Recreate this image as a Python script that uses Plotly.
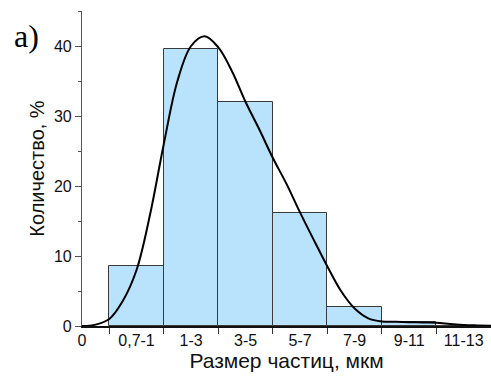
import plotly.graph_objects as go

# Data
categories = ["0,7-1", "1-3", "3-5", "5-7", "7-9", "9-11", "11-13"]
counts = [8.6, 39.6, 32.0, 16.2, 2.7, 0.6, 0.0]

curve_x = [0.0, 0.5, 1.0, 1.5, 2.0, 2.5, 3.0, 3.5, 4.0, 4.5, 5.0, 5.5, 6.0, 6.5, 7.0,
           7.5, 8.0, 8.5, 9.0, 9.5, 10.0, 10.5, 11.0, 11.5, 12.0, 12.5, 13.0, 13.5,
           14.0, 14.5, 15.0]
curve_y = [0.0, 0.2, 1.0, 3.6, 8.0, 16.0, 26.0, 35.0, 40.0, 41.4, 39.8, 36.4, 32.0,
           28.1, 24.0, 20.3, 16.2, 12.3, 8.5, 5.0, 2.5, 1.1, 0.65, 0.6, 0.55, 0.5,
           0.47, 0.3, 0.15, 0.08, 0.03]

bin_width = 2
bar_centers = [2 + bin_width * i for i in range(len(categories))]
label_vals = [0] + bar_centers
label_text = ["0"] + categories
tick_vals = [c - bin_width / 2 for c in bar_centers]

FONT = "Liberation Sans, Arial, sans-serif"

fig = go.Figure()
fig.add_trace(go.Bar(
    x=bar_centers, y=counts, width=bin_width,
    marker=dict(color="#b9e3fd", line=dict(color="#3a3a3a", width=1)),
    showlegend=False,
))
fig.add_trace(go.Scatter(
    x=curve_x, y=curve_y, mode="lines",
    line=dict(color="black", width=2, shape="spline", smoothing=1.0),
    showlegend=False,
))
# invisible trace to activate the overlay axis that carries the category labels
fig.add_trace(go.Scatter(x=[0], y=[0], xaxis="x2", mode="markers",
                         marker=dict(opacity=0), showlegend=False, hoverinfo="skip"))

fig.update_layout(
    width=491, height=380,
    margin=dict(l=82, r=0, t=11, b=54),
    plot_bgcolor="white", paper_bgcolor="white",
    bargap=0,
    font=dict(family=FONT, size=16, color="#111"),
    xaxis=dict(
        range=[0, 15], showgrid=False, zeroline=False,
        showline=True, linecolor="#111", linewidth=1.5,
        tickmode="array", tickvals=tick_vals, ticktext=[""] * len(tick_vals),
        ticks="outside", ticklen=6, tickcolor="#333", tickwidth=1,
    ),
    xaxis2=dict(
        range=[0, 15], overlaying="x", side="bottom", showgrid=False,
        zeroline=False, showline=False,
        tickmode="array", tickvals=label_vals, ticktext=label_text,
        ticks="", ticklabelstandoff=3, tickfont=dict(size=16, family=FONT),
        title=dict(text="Размер частиц, мкм", font=dict(size=21), standoff=1),
    ),
    yaxis=dict(
        range=[0, 45], showgrid=False, zeroline=False,
        showline=True, linecolor="#555", linewidth=1.2,
        tickmode="linear", tick0=0, dtick=10,
        ticks="outside", ticklen=6, tickcolor="#555",
        tickfont=dict(size=16),
        minor=dict(ticks="outside", ticklen=3, dtick=5, tick0=0, tickcolor="#555"),
        title=dict(text="Количество, %", font=dict(size=20), standoff=3),
    ),
    annotations=[dict(
        text="a)", xref="paper", yref="paper", x=-0.172, y=0.985,
        xanchor="left", yanchor="top", showarrow=False,
        font=dict(family="Liberation Serif, Times New Roman, serif", size=32, color="black"),
    )],
)

fig.write_html("out.html")
